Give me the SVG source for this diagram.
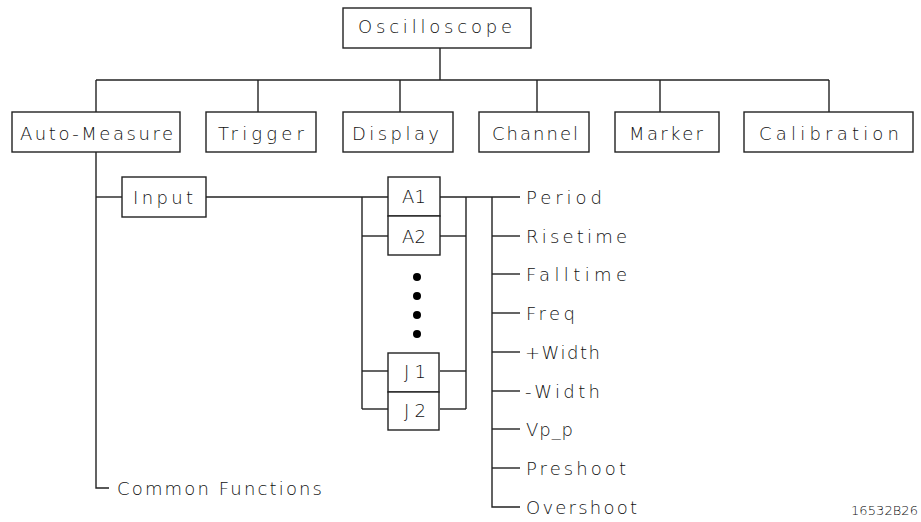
<svg xmlns="http://www.w3.org/2000/svg" width="921" height="522" viewBox="0 0 921 522">
<style>
rect.box{fill:#fff;stroke:#222;stroke-width:1.4}
.c line,.c polyline{stroke:#222;stroke-width:1.4;fill:none}
text{font-family:"DejaVu Sans","Liberation Sans",sans-serif;font-weight:200;font-size:18px;fill:#111}
text.s{font-size:13px}
</style>
<rect width="921" height="522" fill="#fff"/>
<g class="c" id="connectors">
<line x1="440" y1="48" x2="440" y2="80"/>
<line x1="96" y1="80" x2="829" y2="80"/>
<line x1="96" y1="80" x2="96" y2="112"/>
<line x1="258" y1="80" x2="258" y2="112"/>
<line x1="400" y1="80" x2="400" y2="112"/>
<line x1="537" y1="80" x2="537" y2="112"/>
<line x1="660" y1="80" x2="660" y2="112"/>
<line x1="829" y1="80" x2="829" y2="112"/>
<polyline points="96,152 96,488 109,488"/>
<line x1="96" y1="197" x2="122" y2="197"/>
<line x1="206" y1="197" x2="388" y2="197"/>
<line x1="362" y1="197" x2="362" y2="409"/>
<line x1="362" y1="236" x2="388" y2="236"/>
<line x1="362" y1="371" x2="388" y2="371"/>
<line x1="362" y1="409" x2="388" y2="409"/>
<line x1="466" y1="197" x2="466" y2="409"/>
<line x1="440" y1="236" x2="466" y2="236"/>
<line x1="440" y1="371" x2="466" y2="371"/>
<line x1="440" y1="409" x2="466" y2="409"/>
<line x1="440" y1="197" x2="520" y2="197"/>
<polyline points="492,197 492,507 520,507"/>
<line x1="492" y1="236" x2="520" y2="236"/>
<line x1="492" y1="274" x2="520" y2="274"/>
<line x1="492" y1="313" x2="520" y2="313"/>
<line x1="492" y1="352" x2="520" y2="352"/>
<line x1="492" y1="391" x2="520" y2="391"/>
<line x1="492" y1="429" x2="520" y2="429"/>
<line x1="492" y1="468" x2="520" y2="468"/>
</g>
<g id="oscilloscope"><rect class="box" x="343" y="8" width="188" height="40"/><text x="358" y="33" textLength="154" lengthAdjust="spacing">Oscilloscope</text></g>
<g id="auto-measure"><rect class="box" x="12" y="112" width="168" height="40"/><text x="20" y="140" textLength="153" lengthAdjust="spacing">Auto-Measure</text></g>
<g id="trigger"><rect class="box" x="206" y="112" width="110" height="40"/><text x="218" y="140" textLength="86" lengthAdjust="spacing">Trigger</text></g>
<g id="display"><rect class="box" x="343" y="112" width="110" height="40"/><text x="352" y="140" textLength="87" lengthAdjust="spacing">Display</text></g>
<g id="channel"><rect class="box" x="479" y="112" width="110" height="40"/><text x="492" y="140" textLength="86" lengthAdjust="spacing">Channel</text></g>
<g id="marker"><rect class="box" x="615" y="112" width="104" height="40"/><text x="629" y="140" textLength="74" lengthAdjust="spacing">Marker</text></g>
<g id="calibration"><rect class="box" x="744" y="112" width="169" height="40"/><text x="759" y="140" textLength="140" lengthAdjust="spacing">Calibration</text></g>
<g id="input"><rect class="box" x="122" y="177" width="84" height="40"/><text x="133" y="204" textLength="60" lengthAdjust="spacing">Input</text></g>
<g id="a1"><rect class="box" x="388" y="177" width="52" height="39"/><text x="402" y="203" textLength="24" lengthAdjust="spacing">A1</text></g>
<g id="a2"><rect class="box" x="388" y="216" width="52" height="39"/><text x="402" y="243" textLength="24" lengthAdjust="spacing">A2</text></g>
<g id="dots" fill="#000"><circle cx="417" cy="277" r="4"/><circle cx="417" cy="296" r="4"/><circle cx="417" cy="315" r="4"/><circle cx="417" cy="334" r="4"/></g>
<g id="j1"><rect class="box" x="388" y="353" width="51" height="39"/><text x="404" y="378" textLength="22" lengthAdjust="spacing">J1</text></g>
<g id="j2"><rect class="box" x="388" y="392" width="51" height="38"/><text x="404" y="417" textLength="22" lengthAdjust="spacing">J2</text></g>
<g id="period"><text x="526" y="204" textLength="76" lengthAdjust="spacing">Period</text></g>
<g id="risetime"><text x="526" y="243" textLength="101" lengthAdjust="spacing">Risetime</text></g>
<g id="falltime"><text x="526" y="281" textLength="101" lengthAdjust="spacing">Falltime</text></g>
<g id="freq"><text x="526" y="320" textLength="49" lengthAdjust="spacing">Freq</text></g>
<g id="pwidth"><text x="525" y="359" textLength="75" lengthAdjust="spacing">+Width</text></g>
<g id="nwidth"><text x="525" y="398" textLength="75" lengthAdjust="spacing">-Width</text></g>
<g id="vpp"><text x="526" y="436" textLength="47" lengthAdjust="spacing">Vp_p</text></g>
<g id="preshoot"><text x="526" y="475" textLength="100" lengthAdjust="spacing">Preshoot</text></g>
<g id="overshoot"><text x="526" y="514" textLength="111" lengthAdjust="spacing">Overshoot</text></g>
<g id="common-functions"><text x="117" y="495" textLength="205" lengthAdjust="spacing">Common Functions</text></g>
<text class="s" x="851" y="515" textLength="67" lengthAdjust="spacing">16532B26</text>
</svg>
